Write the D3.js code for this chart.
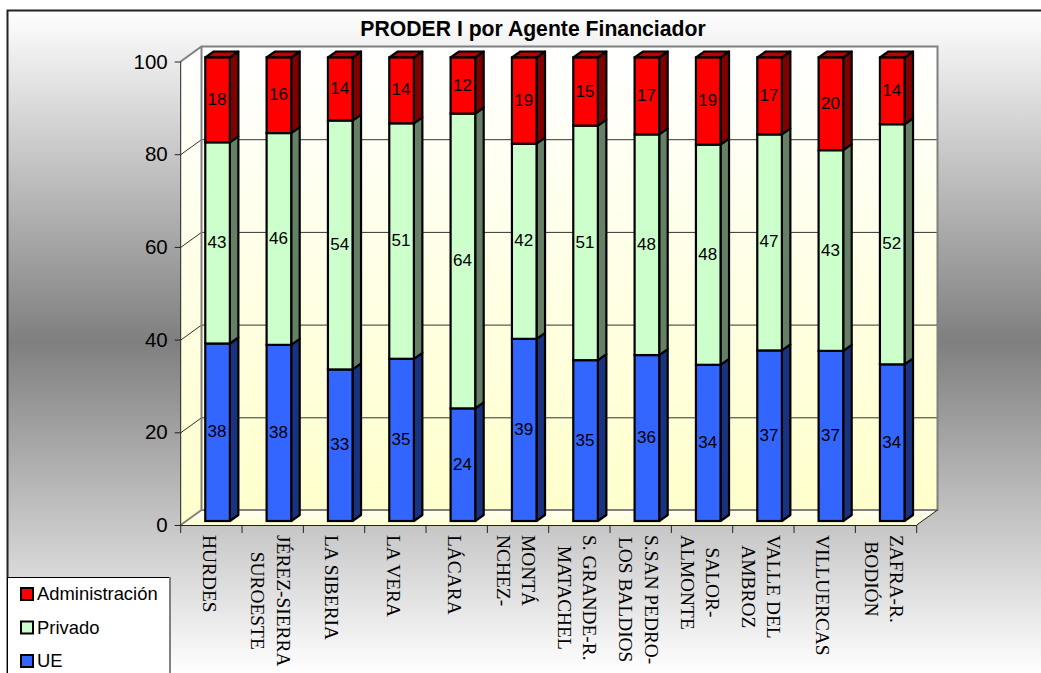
<!DOCTYPE html>
<html><head><meta charset="utf-8">
<script src="https://cdn.jsdelivr.net/npm/d3@7/dist/d3.min.js"></script>
<style>html,body{margin:0;padding:0;background:#fff;overflow:hidden}svg{display:block}
text{font-family:"Liberation Sans",Arial,sans-serif;fill:#000}</style></head>
<body><svg id="c" width="1041" height="673"></svg>
<script>
const title = "PRODER I por Agente Financiador";
const categories = ["HURDES","JÉREZ-SIERRA|SUROESTE","LA SIBERIA","LA VERA","LÁCARA","MONTÁ|NCHEZ-","S. GRANDE-R.|MATACHEL","S.SAN PEDRO-|LOS BALDIOS","SALOR-|ALMONTE","VALLE DEL|AMBROZ","VILLUERCAS","ZAFRA-R.|BODIÓN"];
const ue      = [38.3,38.0,32.7,35.0,24.3,39.3,34.7,35.8,33.7,36.8,36.7,33.8];
const privado = [43.4,45.7,53.7,50.8,63.6,42.1,50.6,47.6,47.5,46.6,43.3,51.8];
const admin   = [18.3,16.3,13.6,14.2,12.1,18.6,14.7,16.6,18.8,16.6,20.0,14.4];
const seriesNames = ["UE","Privado","Administración"];
const seriesColors = ["#3366ff","#ccffcc","#ff0000"];
const sideColors = ["#1a3380","#668066","#800000"];
const topColors = ["#2648bf","#99bf99","#bf0000"];
const yTicks = [0,20,40,60,80,100];

const svg = d3.select("#c");
const W=1041,H=673;
const defs = svg.append("defs");
function grad(id,stops){const g=defs.append("linearGradient").attr("id",id).attr("x1",0).attr("y1",0).attr("x2",0).attr("y2",1);
  stops.forEach(s=>g.append("stop").attr("offset",s[0]).attr("stop-color",s[1]));}
grad("bg",[[0,"#ffffff"],[0.5,"#7f7f7f"],[1,"#ffffff"]]);
grad("wall",[[0,"#ffffff"],[1,"#ffffcc"]]);
grad("floor",[[0,"#fffff2"],[1,"#ffffd6"]]);

const x = d3.scaleBand().domain(categories).range([180.7,916.7]);
const y = d3.scaleLinear().domain([0,100]).range([525,61.5]);
const wdx=20.8, wdy=-15;      // depth of walls
const bdx=6.2, bdy=-4;        // bar front offset from front plane
const ddx=8.5, ddy=-6;        // bar depth
const barW=24.6, barPad=(x.step()-barW)/2;

// background panel
svg.append("rect").attr("x",7).attr("y",10).attr("width",W-7).attr("height",H-10).attr("fill","url(#bg)");
svg.append("path").attr("d",`M7.5,${H}V10.5H${W}`).attr("fill","none").attr("stroke","#222").attr("stroke-width",2);

const g = svg.append("g");
const x0=x.range()[0], x1=x.range()[1], yb=y(0), yt=y(100);
// walls
g.append("polygon").attr("points",[[x0,yb],[x0+wdx,yb+wdy],[x0+wdx,yt+wdy],[x0,yt]].join(" ")).attr("fill","url(#wall)");
g.append("rect").attr("x",x0+wdx).attr("y",yt+wdy).attr("width",x1-x0).attr("height",yb-yt).attr("fill","url(#wall)");
g.append("polygon").attr("points",[[x0,yb],[x1,yb],[x1+wdx,yb+wdy],[x0+wdx,yb+wdy]].join(" ")).attr("fill","url(#floor)");
// gridlines
const inner = yTicks.filter(t=>t>0&&t<100);
g.selectAll(".gl").data(inner).join("path").attr("fill","none").attr("stroke","#333").attr("stroke-width",1)
 .attr("d",t=>`M${x0},${y(t)+.5}L${x0+wdx},${y(t)+wdy+.5}H${x1+wdx}`);
// wall borders
g.append("path").attr("fill","none").attr("stroke","#808080").attr("stroke-width",2)
 .attr("d",`M${x0},${yt}L${x0+wdx},${yt+wdy}H${x1+wdx}V${yb+wdy}H${x0+wdx}V${yt+wdy}M${x0+wdx},${yb+wdy}L${x0},${yb}`);
g.append("path").attr("fill","none").attr("stroke","#222").attr("stroke-width",1)
 .attr("d",`M${x1},${yb}L${x1+wdx},${yb+wdy}`);
// axes
const yAxis = d3.axisLeft(y).tickValues(yTicks).tickSize(6).tickPadding(7);
const ya = svg.append("g").attr("transform",`translate(${x0},0)`).call(yAxis);
ya.selectAll("text").style("font-size","20.5px").attr("fill","#000");
ya.selectAll("line").attr("stroke","#222");
ya.select(".domain").attr("stroke","#222").attr("d",`M0,${yt}V${yb}`);
const edges = categories.map(c=>x(c)).concat([x1]);
svg.selectAll(".xt").data(edges).join("line").attr("x1",d=>d).attr("x2",d=>d).attr("y1",yb).attr("y2",yb+8).attr("stroke","#222");
svg.append("line").attr("x1",x0).attr("x2",x1).attr("y1",yb+.5).attr("y2",yb+.5).attr("stroke","#222");

// stacked bars
const rows = categories.map((c,i)=>({c,UE:ue[i],Privado:privado[i],"Administración":admin[i]}));
const stack = d3.stack().keys(seriesNames)(rows);
const by = v => y(v)+bdy;
stack.forEach((s,k)=>{
  const gs = svg.append("g");
  s.forEach(d=>{
    const bx = x(d.data.c)+barPad+bdx, t=by(d[1]), b=by(d[0]);
    gs.append("polygon").attr("points",[[bx+barW,b],[bx+barW+ddx,b+ddy],[bx+barW+ddx,t+ddy],[bx+barW,t]].join(" "))
      .attr("fill",sideColors[k]).attr("stroke","#000").attr("stroke-width",2.2).attr("stroke-linejoin","round");
    if(k===2) gs.append("polygon").attr("points",[[bx,t],[bx+ddx,t+ddy],[bx+barW+ddx,t+ddy],[bx+barW,t]].join(" "))
      .attr("fill",topColors[k]).attr("stroke","#000").attr("stroke-width",2.2).attr("stroke-linejoin","round");
    gs.append("rect").attr("x",bx).attr("y",t).attr("width",barW).attr("height",b-t)
      .attr("fill",seriesColors[k]).attr("stroke","#000").attr("stroke-width",2.2);
    gs.append("text").attr("x",bx+barW/2-.5).attr("y",(t+b)/2+5).attr("text-anchor","middle").style("font-size","17px")
      .text(Math.round(d[1]-d[0]));
  });
});

// category labels
const lineGap=25.5, topY=535;
categories.forEach(c=>{
  const lines=c.split("|"), cx=x(c)+x.bandwidth()/2;
  const texts = lines.map((l,i)=>svg.append("text").text(l)
     .style("font-family",'"Liberation Serif","Times New Roman",serif').style("font-size","19.4px")
     .attr("text-anchor","middle"));
  const maxLen = d3.max(texts,t=>t.node().getComputedTextLength());
  texts.forEach((t,i)=>{
    const off = (lines.length-1)/2*lineGap - i*lineGap;
    t.attr("transform",`translate(${cx+off-8.7},${topY+maxLen/2}) rotate(90)`);
  });
});

// title
svg.append("text").attr("x",533).attr("y",36).attr("text-anchor","middle").style("font-size","21.2px").style("font-weight","bold").text(title);

// legend
svg.append("rect").attr("x",7.5).attr("y",577.5).attr("width",162.5).attr("height",H).attr("fill","#fff").attr("stroke","#000").attr("stroke-width",1);
svg.append("line").attr("x1",170).attr("x2",170).attr("y1",577).attr("y2",H).attr("stroke","#808080").attr("stroke-width",2);
const legendOrder=[2,1,0], legendY=d3.scalePoint().domain(legendOrder).range([594,661]);
legendOrder.forEach(k=>{
  svg.append("rect").attr("x",21).attr("y",legendY(k)-6).attr("width",12).attr("height",12).attr("fill",seriesColors[k]).attr("stroke","#000").attr("stroke-width",2);
  svg.append("text").attr("x",37).attr("y",legendY(k)+6).style("font-size","18.4px").attr("fill","#000").text(seriesNames[k]);
});
</script></body></html>
